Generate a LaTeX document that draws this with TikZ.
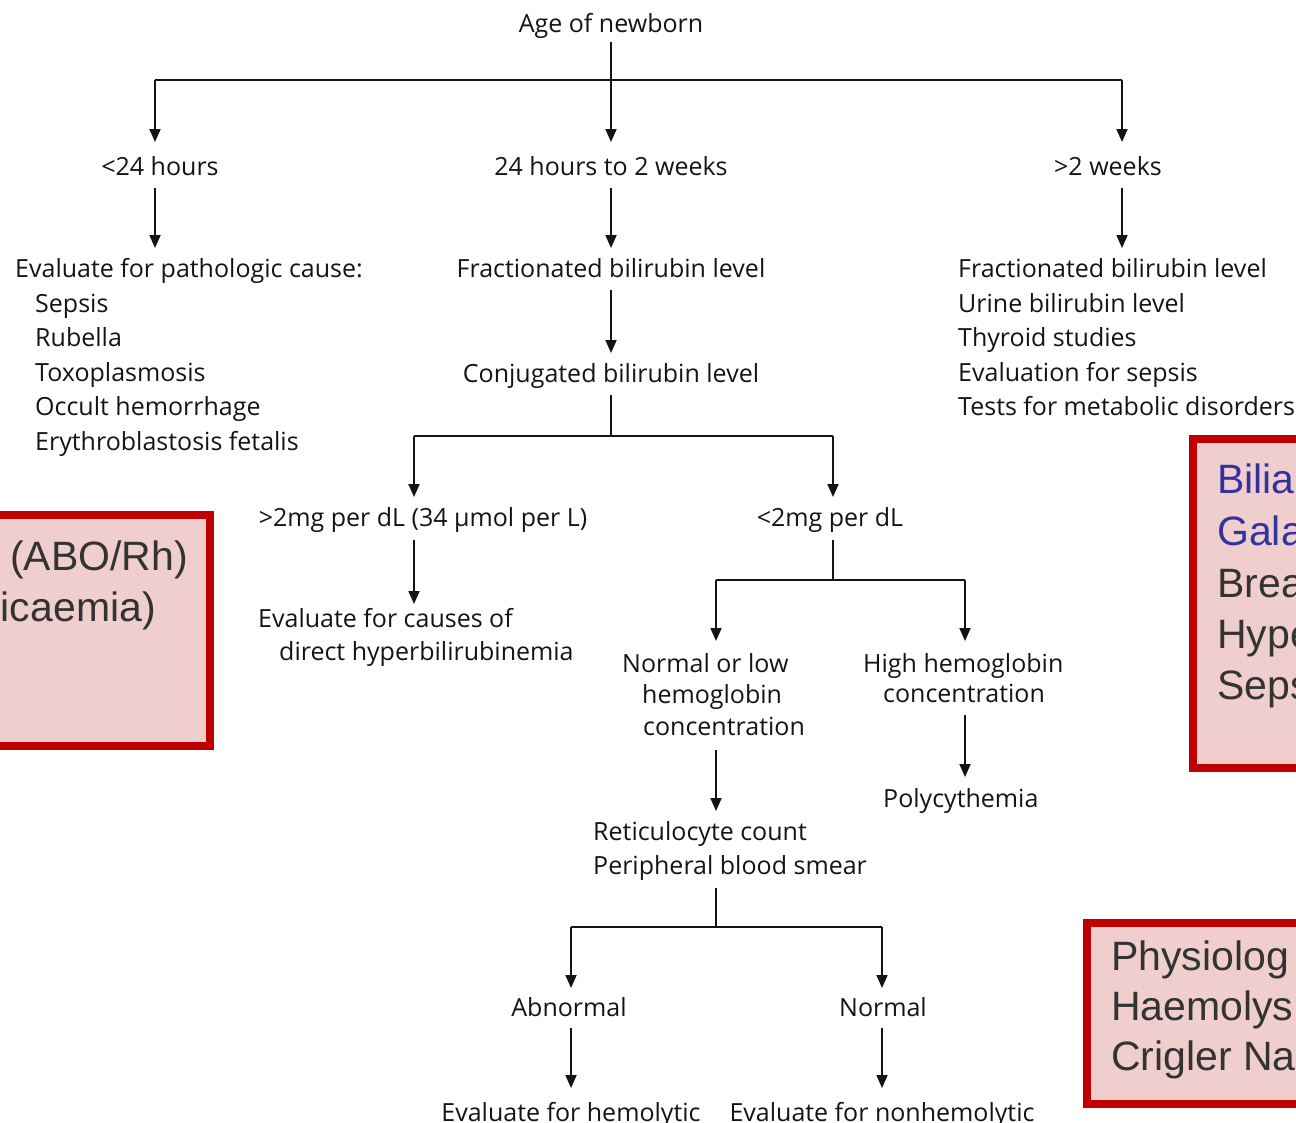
\documentclass[tikz,border=0pt]{standalone}
\usepackage{fontspec}
\setmainfont{Open Sans}
\newfontfamily\boxfont{Liberation Sans}
\usetikzlibrary{arrows.meta}
\definecolor{boxred}{RGB}{192,0,0}
\definecolor{boxfill}{RGB}{240,206,206}
\definecolor{boxtext}{RGB}{51,51,51}
\definecolor{boxblue}{RGB}{51,51,160}
\definecolor{ink}{RGB}{20,20,20}
\begin{document}
\begin{tikzpicture}[x=1pt,y=-1pt,
  lbl/.style={inner sep=0pt,font=\fontsize{25}{30}\selectfont,text=ink},
  arr/.style={draw=ink,line width=1.8pt,-{Triangle[width=11pt,length=13pt]}},
  ln/.style={draw=ink,line width=1.8pt},
  redbox/.style={draw=boxred,line width=8pt,fill=boxfill},
  bigtxt/.style={inner sep=0pt,font=\boxfont\fontsize{41}{49}\selectfont,text=boxtext},
  bluetxt/.style={bigtxt,text=boxblue}]
\useasboundingbox (0,0) rectangle (1296,1122);
\clip (0,0) rectangle (1296,1122);

% red boxes
\draw[redbox] (-20,515) rectangle (209.5,746);
\draw[redbox] (1192.5,439) rectangle (1320,767.5);
\draw[redbox] (1087,923) rectangle (1320,1104);

\node[bigtxt,anchor=base east] (bl1) at (188,570) {(ABO/Rh)};
\node[bigtxt,anchor=base east] (bl2) at (156,621) {icaemia)};

\node[bluetxt,anchor=base west] (br1) at (1217,493) {Bilia};
\node[bluetxt,anchor=base west] (br2) at (1217,545) {Gala};
\node[bigtxt,anchor=base west] (br3) at (1217,597) {Brea};
\node[bigtxt,anchor=base west] (br4) at (1217,648) {Hype};
\node[bigtxt,anchor=base west] (br5) at (1217,699) {Seps};

\node[bigtxt,anchor=base west] (bb1) at (1111,970) {Physiolog};
\node[bigtxt,anchor=base west] (bb2) at (1111,1020) {Haemolys};
\node[bigtxt,anchor=base west] (bb3) at (1111,1070) {Crigler Na};

% flowchart text
\node[lbl,anchor=base] (age) at (611,32) {Age of newborn};
\node[lbl,anchor=base] (lt24) at (160,175) {<24 hours};
\node[lbl,anchor=base] (mid) at (611,175) {24 hours to 2 weeks};
\node[lbl,anchor=base] (gt2) at (1108,175) {>2 weeks};

\node[lbl,anchor=base west] (ev) at (15,277) {Evaluate for pathologic cause:};
\node[lbl,anchor=base west] (ev1) at (35,312) {Sepsis};
\node[lbl,anchor=base west] (ev2) at (35,346.5) {Rubella};
\node[lbl,anchor=base west] (ev3) at (35,381) {Toxoplasmosis};
\node[lbl,anchor=base west] (ev4) at (35,415.5) {Occult hemorrhage};
\node[lbl,anchor=base west] (ev5) at (35,450) {Erythroblastosis fetalis};

\node[lbl,anchor=base] (frac) at (611,277) {Fractionated bilirubin level};
\node[lbl,anchor=base] (conj) at (611,382) {Conjugated bilirubin level};

\node[lbl,anchor=base west] (r1) at (958,277) {Fractionated bilirubin level};
\node[lbl,anchor=base west] (r2) at (958,312) {Urine bilirubin level};
\node[lbl,anchor=base west] (r3) at (958,346.5) {Thyroid studies};
\node[lbl,anchor=base west] (r4) at (958,381) {Evaluation for sepsis};
\node[lbl,anchor=base west] (r5) at (958,415.5) {Tests for metabolic disorders};

\node[lbl,anchor=base] (gt2mg) at (423,526) {>2mg per dL (34 μmol per L)};
\node[lbl,anchor=base] (lt2mg) at (830,526) {<2mg per dL};
\node[lbl,anchor=base west] (dir1) at (258,627) {Evaluate for causes of};
\node[lbl,anchor=base west] (dir2) at (279,660) {direct hyperbilirubinemia};

\node[lbl,anchor=base west] (nl1) at (622,672) {Normal or low};
\node[lbl,anchor=base west] (nl2) at (642,703) {hemoglobin};
\node[lbl,anchor=base west] (nl3) at (643,735) {concentration};
\node[lbl,anchor=base west] (hh1) at (863,672) {High hemoglobin};
\node[lbl,anchor=base west] (hh2) at (883,702) {concentration};
\node[lbl,anchor=base west] (poly) at (883,807) {Polycythemia};

\node[lbl,anchor=base west] (ret1) at (593,840) {Reticulocyte count};
\node[lbl,anchor=base west] (ret2) at (593,874.5) {Peripheral blood smear};

\node[lbl,anchor=base] (abn) at (569,1016) {Abnormal};
\node[lbl,anchor=base] (nor) at (883,1016) {Normal};
\node[lbl,anchor=base] (hemo) at (571,1121) {Evaluate for hemolytic};
\node[lbl,anchor=base] (nonhemo) at (882,1121) {Evaluate for nonhemolytic};

% connector coordinates
\coordinate (c0) at (611,42);
\coordinate (c1) at (611,80);
\coordinate (cL) at (155,80);
\coordinate (cR) at (1122,80);
\coordinate (t1) at (155,142);
\coordinate (t2) at (611,142);
\coordinate (t3) at (1122,142);

\coordinate (s1) at (155,188);  \coordinate (e1) at (155,248);
\coordinate (s2) at (611,188);  \coordinate (e2) at (611,248);
\coordinate (s3) at (1122,188); \coordinate (e3) at (1122,248);

\coordinate (s4) at (611,290);  \coordinate (e4) at (611,353);

\coordinate (s5) at (611,395);  \coordinate (j5) at (611,436);
\coordinate (j5L) at (414,436); \coordinate (j5R) at (833,436);
\coordinate (e5L) at (414,497); \coordinate (e5R) at (833,497);

\coordinate (s6) at (414,540);  \coordinate (e6) at (414,604);

\coordinate (s7) at (833,540);  \coordinate (j7) at (833,580);
\coordinate (j7L) at (716,580); \coordinate (j7R) at (965,580);
\coordinate (e7L) at (716,641); \coordinate (e7R) at (965,641);

\coordinate (s8) at (716,750);  \coordinate (e8) at (716,811);
\coordinate (s9) at (965,715);  \coordinate (e9) at (965,777);

\coordinate (s10) at (716,888);  \coordinate (j10) at (716,927);
\coordinate (j10L) at (571,927); \coordinate (j10R) at (882,927);
\coordinate (e10L) at (571,988); \coordinate (e10R) at (882,988);

\coordinate (s11) at (571,1028); \coordinate (e11) at (571,1088);
\coordinate (s12) at (882,1028); \coordinate (e12) at (882,1088);

% connectors
\draw[ln] (c0) -- (c1);
\draw[ln] (cL) -- (cR);
\draw[arr] (cL) -- (t1);
\draw[arr] (c1) -- (t2);
\draw[arr] (cR) -- (t3);
\draw[arr] (s1) -- (e1);
\draw[arr] (s2) -- (e2);
\draw[arr] (s3) -- (e3);
\draw[arr] (s4) -- (e4);
\draw[ln] (s5) -- (j5);
\draw[ln] (j5L) -- (j5R);
\draw[arr] (j5L) -- (e5L);
\draw[arr] (j5R) -- (e5R);
\draw[arr] (s6) -- (e6);
\draw[ln] (s7) -- (j7);
\draw[ln] (j7L) -- (j7R);
\draw[arr] (j7L) -- (e7L);
\draw[arr] (j7R) -- (e7R);
\draw[arr] (s8) -- (e8);
\draw[arr] (s9) -- (e9);
\draw[ln] (s10) -- (j10);
\draw[ln] (j10L) -- (j10R);
\draw[arr] (j10L) -- (e10L);
\draw[arr] (j10R) -- (e10R);
\draw[arr] (s11) -- (e11);
\draw[arr] (s12) -- (e12);
\end{tikzpicture}
\end{document}
